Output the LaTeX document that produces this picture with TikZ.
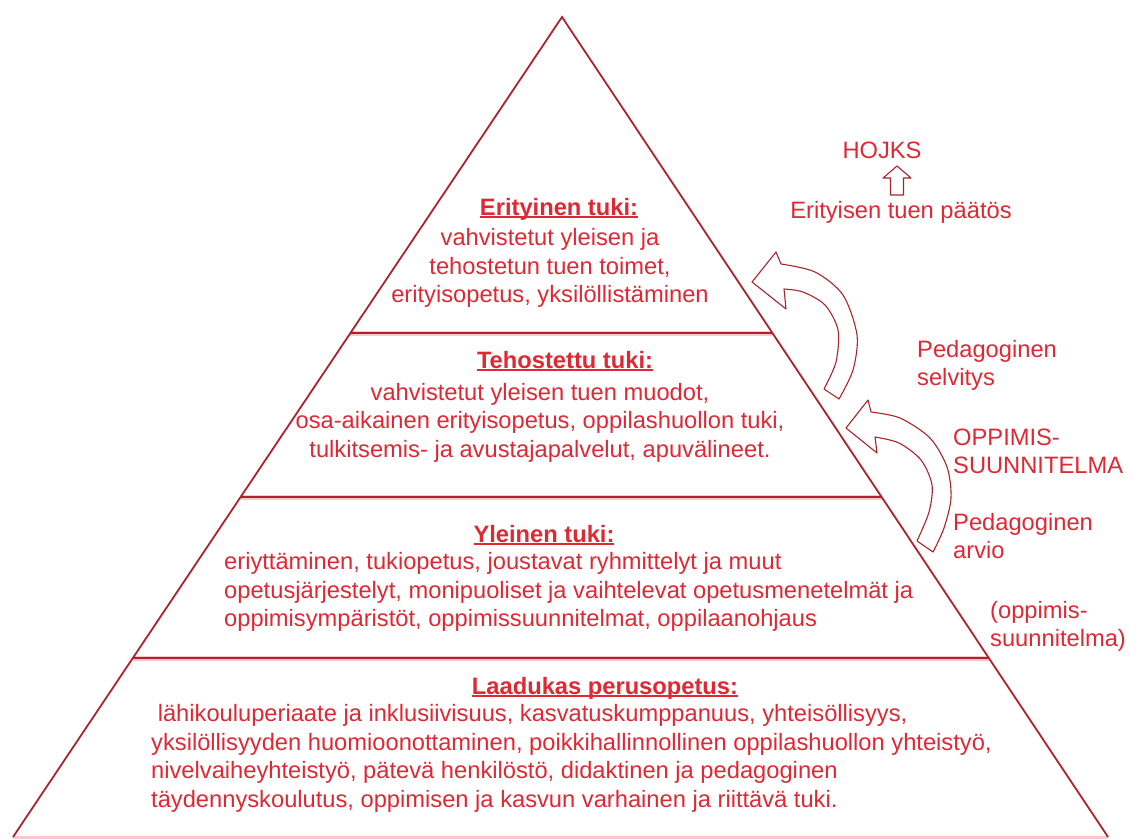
\documentclass[tikz,border=0pt]{standalone}
\usepackage{fontspec}
\setmainfont{Liberation Sans}
\usetikzlibrary{calc}

\definecolor{pyrred}{RGB}{222,40,52}
\definecolor{pyrline}{RGB}{170,35,45}
\definecolor{pyrpink}{RGB}{250,200,204}

\newcommand{\otsikko}[1]{\setbox0=\hbox{\bfseries #1}\rlap{\rule[-3pt]{\wd0}{1.6pt}}\box0}

\tikzset{
  reuna/.style={draw=pyrline, line width=1.8pt, line join=miter},
  taso/.style={draw=pyrline, line width=2.4pt},
  halo/.style={draw=pyrpink, line width=5pt},
  teksti/.style={text=pyrred, font=\fontsize{23.7}{28.6}\selectfont, inner sep=0pt},
  nuoli/.style={draw=pyrline, line width=1.1pt, fill=white, line join=round},
}

\begin{document}
\begin{tikzpicture}[x=1pt,y=-1pt]
\useasboundingbox (0,0) rectangle (1129,839);

% pyramidin kulmat
\coordinate (huippu) at (562,17);
\coordinate (vasen) at (13,837);
\coordinate (oikea) at (1108,837);

\draw[pyrpink, line width=3pt] (vasen) -- (oikea); % pohja
\draw[halo] ($(huippu)!0.3854!(vasen)$) -- ($(huippu)!0.3854!(oikea)$);
\draw[halo] ($(huippu)!0.5854!(vasen)$) -- ($(huippu)!0.5854!(oikea)$);
\draw[halo] ($(huippu)!0.7817!(vasen)$) -- ($(huippu)!0.7817!(oikea)$);
\draw[taso] ($(huippu)!0.3854!(vasen)$) -- ($(huippu)!0.3854!(oikea)$); % erityinen / tehostettu
\draw[taso] ($(huippu)!0.5854!(vasen)$) -- ($(huippu)!0.5854!(oikea)$); % tehostettu / yleinen
\draw[taso] ($(huippu)!0.7817!(vasen)$) -- ($(huippu)!0.7817!(oikea)$); % yleinen / laadukas
\draw[reuna] (vasen) -- (huippu) -- (oikea); % sivut

% tasojen tekstit
\node[teksti, anchor=base] (erityinen) at (559,215) {\otsikko{Erityinen tuki:}};
\node[teksti, anchor=north, align=center] (erityinenteksti) at (550,228.3) {vahvistetut yleisen ja\\tehostetun tuen toimet,\\erityisopetus, yksilöllistäminen};

\node[teksti, anchor=base] (tehostettu) at (565,368) {\otsikko{Tehostettu tuki:}};
\node[teksti, anchor=north, align=center] (tehostettuteksti) at (540,382.8) {vahvistetut yleisen tuen muodot,\\osa-aikainen erityisopetus, oppilashuollon tuki,\\tulkitsemis- ja avustajapalvelut, apuvälineet.};

\node[teksti, anchor=base] (yleinen) at (544,542) {\otsikko{Yleinen tuki:}};
\node[teksti, anchor=north west, align=left] (yleinenteksti) at (224,552.3) {eriyttäminen, tukiopetus, joustavat ryhmittelyt ja muut\\opetusjärjestelyt, monipuoliset ja vaihtelevat opetusmenetelmät ja\\oppimisympäristöt, oppimissuunnitelmat, oppilaanohjaus};

\node[teksti, anchor=base] (laadukas) at (605,694) {\otsikko{Laadukas perusopetus:}};
\node[teksti, anchor=north west, align=left] (laadukasteksti) at (151,704.3) {\ lähikouluperiaate ja inklusiivisuus, kasvatuskumppanuus, yhteisöllisyys,\\yksilöllisyyden huomioonottaminen, poikkihallinnollinen oppilashuollon yhteistyö,\\nivelvaiheyhteistyö, pätevä henkilöstö, didaktinen ja pedagoginen\\täydennyskoulutus, oppimisen ja kasvun varhainen ja riittävä tuki.};

% oikean reunan tekstit
\node[teksti, anchor=base] (hojks) at (882,158.5) {HOJKS};
\node[teksti, anchor=base] (paatos) at (901,218.5) {Erityisen tuen päätös};
\node[teksti, anchor=north west, align=left] (selvitys) at (917,340) {Pedagoginen\\selvitys};
\node[teksti, anchor=north west, align=left] (suunnitelma) at (953,428.5) {OPPIMIS-\\SUUNNITELMA};
\node[teksti, anchor=north west, align=left] (arvio) at (953,513) {Pedagoginen\\arvio};
\node[teksti, anchor=north west, align=left] (oppimis) at (990,601) {(oppimis-\\suunnitelma)};

% nuolet
\draw[nuoli] (890.5,195) -- (890.5,178) -- (883,178) -- (897,166) -- (911,178) -- (903.5,178) -- (903.5,195) -- cycle;
\draw[nuoli] (752,282) -- (776,252) -- (781,264) -- plot[smooth] coordinates {(781,264) (815,272) (843,295) (857,335) (853,370) (839,399)} -- (824,389) -- plot[smooth] coordinates {(824,389) (836,362) (838,330) (825,305) (803,292) (784,289)} -- (786,309) -- cycle;
\draw[nuoli] (846,428) -- (868,400) -- (871,412) -- plot[smooth] coordinates {(871,412) (900,418) (930,438) (947,467) (951,498) (944,528) (933,552)} -- (917,541) -- plot[smooth] coordinates {(917,541) (929,512) (932,485) (921,460) (899,443) (875,437)} -- (877,453) -- cycle;
\end{tikzpicture}
\end{document}
